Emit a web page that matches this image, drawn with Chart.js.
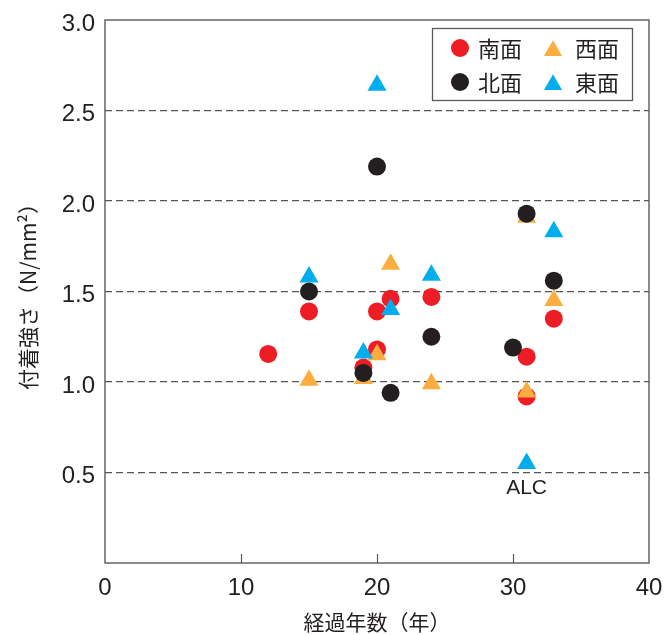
<!DOCTYPE html>
<html>
<head>
<meta charset="utf-8">
<script src="https://cdn.jsdelivr.net/npm/chart.js@4/dist/chart.umd.min.js"></script>
<style>
  html, body { margin: 0; padding: 0; background: #fff; }
  #wrap { width: 665px; height: 635px; position: relative; }
</style>
</head>
<body>
<div id="wrap"><canvas id="c"></canvas></div>
<script>
// Bond strength (N/mm²) against years since construction, by wall orientation
const southYears    = [12, 15, 19, 20, 20, 21, 24, 31, 31, 33];
const southStrength = [1.155, 1.39, 1.08, 1.18, 1.39, 1.46, 1.47, 1.14, 0.92, 1.35];

const northYears    = [15, 20, 19, 21, 24, 30, 31, 33];
const northStrength = [1.50, 2.19, 1.05, 0.94, 1.25, 1.19, 1.93, 1.56];

const westYears     = [15, 19, 20, 21, 24, 31, 31, 33];
const westStrength  = [1.01, 1.02, 1.15, 1.65, 0.99, 1.91, 0.945, 1.45];

const eastYears     = [15, 19, 20, 21, 24, 31, 33];
const eastStrength  = [1.58, 1.16, 2.64, 1.40, 1.59, 0.55, 1.83];

const seriesNames = ['南面', '北面', '西面', '東面'];
const xTicks = [0, 10, 20, 30, 40];
const yTicks = [0.5, 1.0, 1.5, 2.0, 2.5, 3.0];

// annotation under the ALC specimen
const alcNote = { text: 'ALC', x: 31, y: 0.55 };

const INK = '#231F20';
const FRAME = '#5a5a5a';
const CJK = '"Noto Sans CJK JP", "Noto Sans", sans-serif';
const LATIN = '"Liberation Sans", Arial, Helvetica, sans-serif';

const toPoints = (xs, ys) => xs.map((x, i) => ({ x: x, y: ys[i] }));

const datasets = [
  { label: seriesNames[0], data: toPoints(southYears, southStrength),
    pointStyle: 'circle', pointRadius: 9, backgroundColor: '#EE1C25', order: 3 },
  { label: seriesNames[1], data: toPoints(northYears, northStrength),
    pointStyle: 'circle', pointRadius: 9, backgroundColor: INK, order: 0 },
  { label: seriesNames[2], data: toPoints(westYears, westStrength),
    pointStyle: 'triangle', pointRadius: 11, backgroundColor: '#FBAE3F', order: 2 },
  { label: seriesNames[3], data: toPoints(eastYears, eastStrength),
    pointStyle: 'triangle', pointRadius: 11, backgroundColor: '#00AEEF', order: 1 }
].map(d => Object.assign(d, { borderWidth: 0, pointBorderWidth: 0, pointHoverRadius: d.pointRadius }));

function markPoint(ctx, style, radius, color, x, y) {
  ctx.save();
  ctx.fillStyle = color;
  if (Chart.helpers && Chart.helpers.drawPoint) {
    Chart.helpers.drawPoint(ctx, { pointStyle: style, radius: radius, borderWidth: 0, rotation: 0 }, x, y);
  } else {
    ctx.beginPath();
    if (style === 'circle') {
      ctx.arc(x, y, radius, 0, Math.PI * 2);
    } else {
      for (let k = 0; k < 3; k++) {
        const a = k * Math.PI * 2 / 3;
        ctx.lineTo(x + Math.sin(a) * radius, y - Math.cos(a) * radius);
      }
      ctx.closePath();
    }
    ctx.fill();
  }
  ctx.restore();
}

const framePlugin = {
  id: 'frame',
  afterDraw(chart) {
    const ctx = chart.ctx;
    const a = chart.chartArea;
    const xs = chart.scales.x, ys = chart.scales.y;

    // plot frame
    ctx.save();
    ctx.strokeStyle = FRAME;
    ctx.lineWidth = 1.4;
    ctx.strokeRect(a.left, a.top, a.right - a.left, a.bottom - a.top);

    // short inward tick marks on the year axis
    ctx.beginPath();
    xTicks.slice(1, -1).forEach(v => {
      const px = Math.round(xs.getPixelForValue(v)) + 0.5;
      ctx.moveTo(px, a.bottom);
      ctx.lineTo(px, a.bottom - 9);
    });
    ctx.lineWidth = 1.2;
    ctx.stroke();
    ctx.restore();

    // ALC note
    ctx.save();
    ctx.fillStyle = INK;
    ctx.font = '21px ' + LATIN;
    ctx.textAlign = 'center';
    ctx.textBaseline = 'middle';
    ctx.fillText(alcNote.text, xs.getPixelForValue(alcNote.x), ys.getPixelForValue(alcNote.y) + 25);
    ctx.restore();

    // two-column legend box in the upper right
    const box = { x: a.right - 217, y: a.top + 8, w: 200, h: 72 };
    ctx.save();
    ctx.fillStyle = '#fff';
    ctx.fillRect(box.x, box.y, box.w, box.h);
    ctx.strokeStyle = FRAME;
    ctx.lineWidth = 1.3;
    ctx.strokeRect(box.x + 0.5, box.y + 0.5, box.w, box.h);
    ctx.font = '22px ' + CJK;
    ctx.textBaseline = 'middle';
    ctx.textAlign = 'left';
    chart.data.datasets.forEach((ds, i) => {
      const col = Math.floor(i / 2), row = i % 2;
      const mx = box.x + 28 + col * 93;
      const my = box.y + 20 + row * 34;
      const r = ds.pointStyle === 'triangle' ? 10.5 : 9;
      const dy = ds.pointStyle === 'triangle' ? r / 4 : 0;
      markPoint(ctx, ds.pointStyle, r, ds.backgroundColor, mx, my + dy);
      ctx.fillStyle = INK;
      ctx.fillText(ds.label, mx + 18 + col * 4, my + 1);
    });
    ctx.restore();
  }
};

new Chart(document.getElementById('c'), {
  type: 'scatter',
  data: { datasets: datasets },
  options: {
    responsive: true,
    maintainAspectRatio: false,
    animation: false,
    events: [],
    layout: { padding: { top: 20, right: 16, left: 0, bottom: 0 } },
    plugins: { legend: { display: false }, tooltip: { enabled: false } },
    scales: {
      x: {
        type: 'linear', min: 0, max: 40,
        afterBuildTicks: s => { s.ticks = xTicks.map(v => ({ value: v })); },
        afterFit: s => { s.height = 72; s.paddingLeft = 0; s.paddingRight = 0; },
        grid: { display: false },
        border: { display: false },
        ticks: {
          padding: 3, color: INK, font: { family: LATIN, size: 24 },
          callback: v => String(v)
        },
        title: {
          display: true, text: '経過年数（年）', color: INK,
          font: { family: CJK, size: 21 }, padding: { top: 0, bottom: 0 }
        }
      },
      y: {
        type: 'linear', min: 0, max: 3,
        afterBuildTicks: s => { s.ticks = [0].concat(yTicks).map(v => ({ value: v })); },
        afterFit: s => { s.width = 105; s.paddingTop = 0; s.paddingBottom = 0; },
        grid: {
          drawTicks: false,
          lineWidth: 1.3,
          color: c => (c.tick && (c.tick.value === 0 || c.tick.value === 3)) ? 'rgba(0,0,0,0)' : '#555'
        },
        border: { display: false, dash: [7, 4] },
        ticks: {
          padding: 10, color: INK, font: { family: LATIN, size: 24, lineHeight: '8px' },
          // empty first line nudges each value slightly below its grid line
          callback: v => v === 0 ? '' : ['', v.toFixed(1)]
        },
        title: {
          display: true, text: '付着強さ（N/mm²）', color: INK,
          font: { family: CJK, size: 21 }, padding: { top: 15, bottom: 0 }
        }
      }
    }
  },
  plugins: [framePlugin]
});
</script>
</body>
</html>
